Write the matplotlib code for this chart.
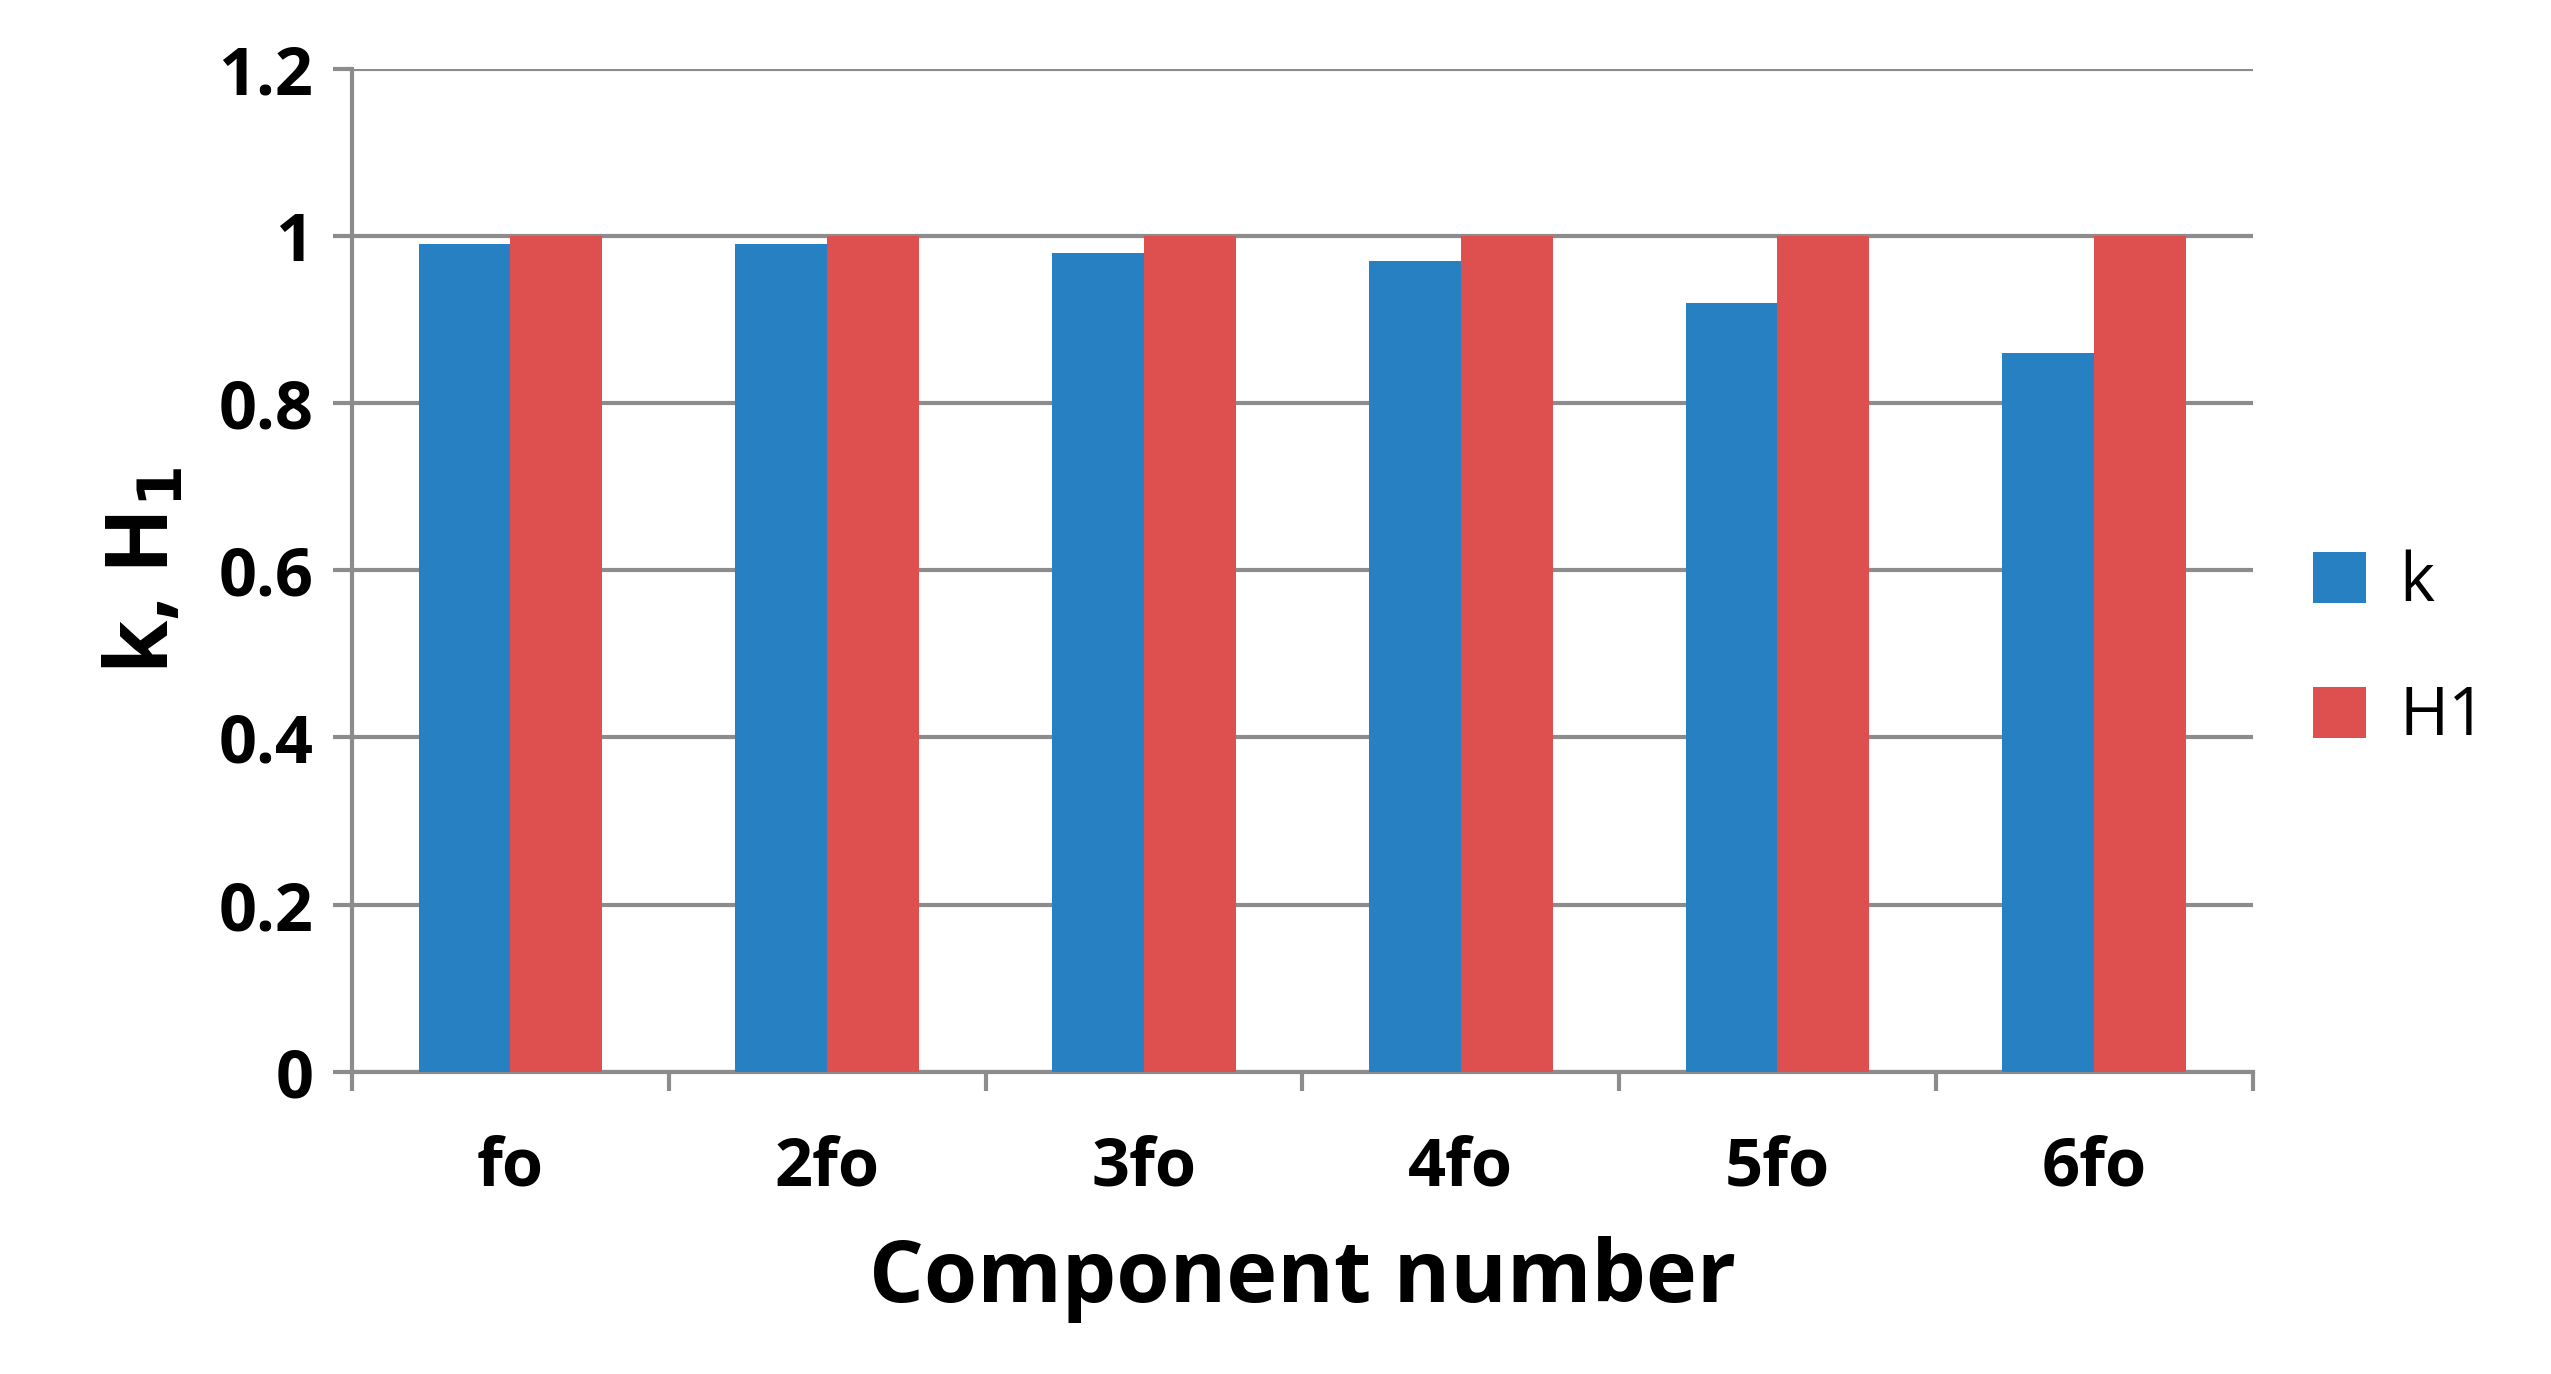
import matplotlib
matplotlib.use("Agg")
import matplotlib.pyplot as plt
import numpy as np

categories = ["fo", "2fo", "3fo", "4fo", "5fo", "6fo"]
k_vals = [0.99, 0.99, 0.98, 0.97, 0.92, 0.86]
h1_vals = [1.0, 1.0, 1.0, 1.0, 1.0, 1.0]

plt.rcParams['font.family'] = ['Open Sans', 'DejaVu Sans']
fig = plt.figure(figsize=(25.51, 13.74), dpi=100)
ax = fig.add_axes([0.138, 0.22, 0.745, 0.73])
x = np.arange(len(categories))
w = 0.29
ax.bar(x - w/2, k_vals, w, color="#2680C2", label="k", zorder=3)
ax.bar(x + w/2, h1_vals, w, color="#DE4F4F", label="H1", zorder=3)
ax.set_xlim(-0.5, 5.5)
ax.set_ylim(0, 1.2)
ax.set_yticks([0, 0.2, 0.4, 0.6, 0.8, 1.0, 1.2])
ax.set_yticklabels(["0", "0.2", "0.4", "0.6", "0.8", "1", "1.2"], fontsize=48, fontweight="bold")
ax.yaxis.grid(True, color="#8C8C8C", linewidth=3, zorder=0)
ax.set_xticks(x)
ax.set_xticklabels(categories, fontsize=48, fontweight="bold")
ax.set_xticks(np.arange(-0.5, 6, 1), minor=True)
ax.tick_params(axis="x", which="major", length=0, pad=45)
ax.tick_params(axis="x", which="minor", length=14, width=3, color="#8C8C8C")
ax.tick_params(axis="y", length=14, width=3, color="#8C8C8C", pad=14)
for s in ["top", "right"]:
    ax.spines[s].set_visible(False)
for s in ["left", "bottom"]:
    ax.spines[s].set_color("#8C8C8C")
    ax.spines[s].set_linewidth(3)
ax.set_xlabel("Component number", fontsize=62, fontweight="bold", labelpad=25)
ax.set_ylabel("k, H$_\\mathbf{1}$", fontsize=62, fontweight="bold", labelpad=20)
ax.legend(loc="center left", bbox_to_anchor=(1.0, 0.42), frameon=False, fontsize=48,
          handlelength=0.8, handleheight=0.8, labelspacing=1.0, handletextpad=0.5)
fig.savefig("out.png", dpi=100)
